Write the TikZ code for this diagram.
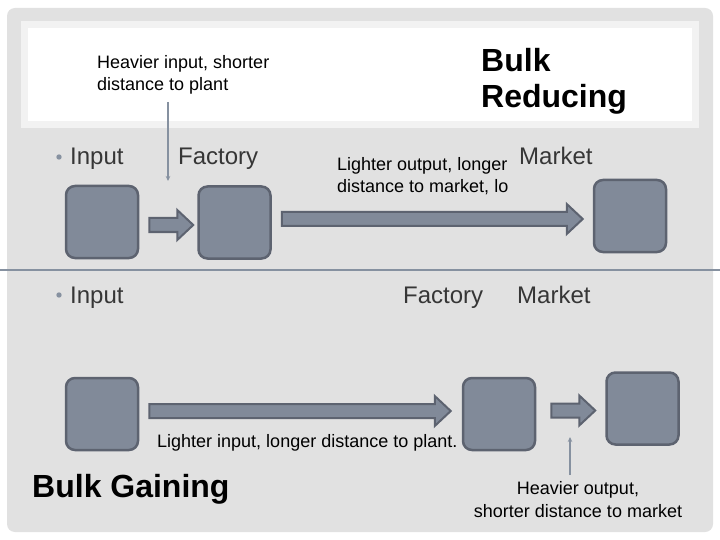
\documentclass[tikz,border=0pt]{standalone}
\usepackage{fontspec}
\setmainfont{Liberation Sans}
\usetikzlibrary{positioning,calc,arrows.meta}

\definecolor{panel}{HTML}{E1E1E1}
\definecolor{bandedge}{HTML}{F2F2F2}
\definecolor{boxfill}{HTML}{818A99}
\definecolor{boxline}{HTML}{5D6370}
\definecolor{rulegray}{HTML}{8691A0}
\definecolor{labeltext}{HTML}{363636}

\begin{document}
\begin{tikzpicture}[x=1pt, y=-1pt,
      place/.style={draw=boxline, fill=boxfill, line width=2.5pt, rounded corners=9pt,
          minimum width=72pt, minimum height=72pt, inner sep=0pt},
      heading/.style={font=\fontsize{24}{28}\selectfont, text=labeltext, inner sep=0pt, anchor=base west},
      note/.style={font=\fontsize{18}{22.5}\selectfont, inner sep=0pt},
      bulk/.style={font=\fontsize{32}{36}\selectfont\bfseries, align=left, inner sep=0pt, anchor=base west},
      pointer/.style={draw=rulegray, line width=1.3pt, -{Stealth[length=5pt,width=4.5pt]}},
      blockarr/.style={draw=boxline, fill=boxfill, line width=2pt, line join=miter,
          to path={let \p1=(\tikztostart), \p2=(\tikztotarget) in
              (\x1,\y1+7pt) -- (\x2-16pt,\y1+7pt) -- (\x2-16pt,\y1+15pt) -- (\x2,\y1)
              -- (\x2-16pt,\y1-15pt) -- (\x2-16pt,\y1-7pt) -- (\x1,\y1-7pt) -- cycle}}]

      \useasboundingbox (0,0) rectangle (720,540);
      \fill[white] (0,0) rectangle (720,540);
      \fill[panel, rounded corners=8pt] (7,8) rectangle (713,532);
      \fill[bandedge] (21,21) rectangle (699,128);
      \fill[white] (28,28) rectangle (692,121);
      \draw[rulegray, line width=1.2pt] (0,270) -- (720,270);

      % bulk reducing (base = last line)
      \node[bulk] (reducing) at (481,108) {Bulk\\Reducing};
      \node[note, anchor=base west, align=left] (heavyin) at (97,91) {Heavier input, shorter\\distance to plant};
      \node[heading] (in1) at (70,165) {Input};
      \node[heading] (factory1) at (178,165) {Factory};
      \node[heading] (market1) at (519,165) {Market};
      \node[note, anchor=base west, align=left] (lightout) at (337,193) {Lighter output, longer\\distance to market, lo};
      \fill[rulegray] ($(in1.base west)+(-11,-8)$) circle (2.7);

      \node[place] (src1) at (102,222) {};
      \node[place] (fac1) at (234.5,222.5) {};
      \node[place] (mkt1) at (630,216) {};
      \draw[blockarr] ($(src1.east)+(10,3)$) to ($(fac1.west)+(-4,3)$);
      \draw[blockarr] ($(fac1.east)+(10,-3.5)$) to ($(mkt1.west)+(-10,-3.5)$);

      \coordinate (tail1) at (168,102);
      \coordinate (tip1) at (168,181);
      \draw[pointer] (tail1) -- (tip1);

      % bulk gaining
      \node[heading] (in2) at (70,303) {Input};
      \node[heading] (factory2) at (403,303) {Factory};
      \node[heading] (market2) at (517,303) {Market};
      \fill[rulegray] ($(in2.base west)+(-11,-8)$) circle (2.7);

      \node[place] (src2) at (102,414) {};
      \node[place] (fac2) at (499,414) {};
      \node[place] (mkt2) at (642.5,408.5) {};
      \draw[blockarr] ($(src2.east)+(10,-3)$) to ($(fac2.west)+(-11,-3)$);
      \draw[blockarr] ($(fac2.east)+(15,-3.5)$) to ($(mkt2.west)+(-10,-3.5)$);

      \node[note, anchor=base west] (lightin) at (157,447) {Lighter input, longer distance to plant.};
      \node[bulk] (gaining) at (32,497) {Bulk Gaining};
      \node[note, anchor=base, align=center] (heavyout) at (578,517) {Heavier output,\\shorter distance to market};

      \coordinate (tail2) at (570,475);
      \coordinate (tip2) at (570,437);
      \draw[pointer] (tail2) -- (tip2);
\end{tikzpicture}
\end{document}
